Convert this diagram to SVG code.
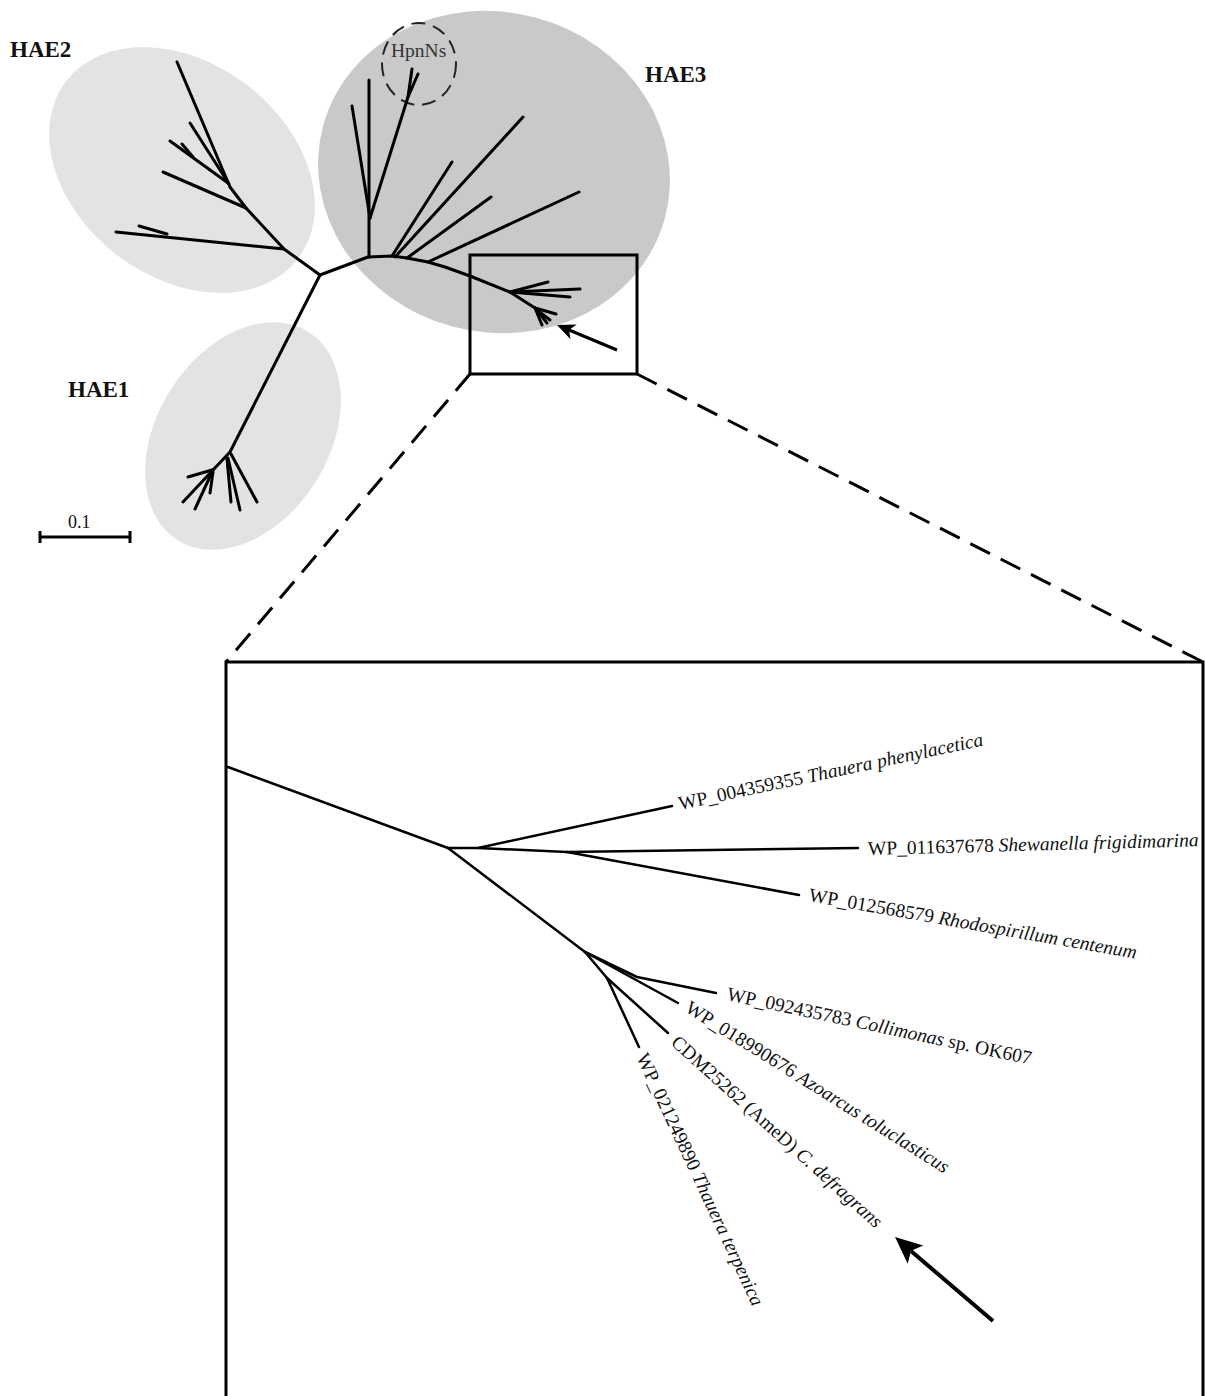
<svg xmlns="http://www.w3.org/2000/svg" width="1205" height="1396" viewBox="0 0 1205 1396">
<style>
.bg{fill:#ffffff}
.clL{fill:#e3e3e3}
.clD{fill:#c9c9c9}
.tr{fill:none;stroke:#000;stroke-width:3;stroke-linecap:round;stroke-linejoin:round}
.tz{fill:none;stroke:#000;stroke-width:2.5;stroke-linecap:round;stroke-linejoin:round}
.box{fill:none;stroke:#000;stroke-width:3}
.dash{fill:none;stroke:#000;stroke-width:3;stroke-dasharray:22 12}
.lab{font-family:"Liberation Serif","Times New Roman",serif;font-weight:bold;font-size:23px;fill:#111}
.leaf{font-family:"Liberation Serif","Times New Roman",serif;font-size:19.5px;fill:#111}
.it{font-style:italic}
</style>
<rect class="bg" x="0" y="0" width="1205" height="1396"/>

<g id="clusters">
  <ellipse id="hae2-area" class="clL" cx="182" cy="170" rx="146" ry="107" transform="rotate(37.5 182 170)"/>
  <ellipse id="hae1-area" class="clL" cx="243" cy="436" rx="86" ry="123" transform="rotate(32 243 436)"/>
  <ellipse id="hae3-area" class="clD" cx="494" cy="172" rx="177" ry="160" transform="rotate(15 494 172)"/>
</g>

<g id="labels">
  <text id="HAE2" class="lab" x="10" y="57">HAE2</text>
  <text id="HAE3" class="lab" x="645" y="82">HAE3</text>
  <text id="HAE1" class="lab" x="68" y="397">HAE1</text>
</g>

<g id="hpnns">
  <ellipse cx="419" cy="64" rx="37" ry="41" fill="none" stroke="#222" stroke-width="2" stroke-dasharray="14 8"/>
  <text x="391" y="57" font-family="'Liberation Serif','Times New Roman',serif" font-size="19.5" fill="#333">HpnNs</text>
</g>

<g id="connectors">
  <!-- overview tree: HAE2 -->
  <polyline class="tr" points="320,275 284,249 246,208 230,187 177,62"/>
  <line class="tr" x1="284" y1="249" x2="116" y2="232"/>
  <line class="tr" x1="139" y1="226" x2="167" y2="234"/>
  <line class="tr" x1="246" y1="208" x2="163" y2="172"/>
  <line class="tr" x1="228" y1="183" x2="170" y2="141"/>
  <line class="tr" x1="182" y1="144" x2="193" y2="157"/>
  <line class="tr" x1="229" y1="184" x2="190" y2="123"/>
  <!-- HAE1 -->
  <polyline class="tr" points="320,275 230,452 213,470 183,502"/>
  <line class="tr" x1="212" y1="470" x2="188" y2="477"/>
  <line class="tr" x1="213" y1="470" x2="195" y2="509"/>
  <line class="tr" x1="213" y1="472" x2="210" y2="493"/>
  <line class="tr" x1="227" y1="459" x2="231" y2="502"/>
  <line class="tr" x1="228" y1="458" x2="240" y2="510"/>
  <line class="tr" x1="231" y1="454" x2="257" y2="502"/>
  <!-- HAE3 -->
  <polyline class="tr" points="320,275 368,257 392,256 407,258 428,262 445,267 470,276 510,292 535,308 547,323"/>
  <line class="tr" x1="369" y1="257" x2="369" y2="80"/>
  <line class="tr" x1="370" y1="218" x2="352" y2="106"/>
  <polyline class="tr" points="370,218 408,97 412,69"/>
  <line class="tr" x1="408" y1="97" x2="418" y2="74"/>
  <line class="tr" x1="392" y1="256" x2="452" y2="162"/>
  <line class="tr" x1="395" y1="257" x2="523" y2="117"/>
  <line class="tr" x1="407" y1="258" x2="491" y2="197"/>
  <line class="tr" x1="428" y1="262" x2="579" y2="192"/>
  <line class="tr" x1="510" y1="292" x2="548" y2="282"/>
  <line class="tr" x1="510" y1="292" x2="580" y2="289"/>
  <line class="tr" x1="510" y1="292" x2="570" y2="297"/>
  <line class="tr" x1="535" y1="308" x2="556" y2="314"/>
  <line class="tr" x1="535" y1="308" x2="542" y2="325"/>
  <line class="tr" x1="537" y1="310" x2="550" y2="320"/>

  <!-- small arrow -->
  <line x1="617" y1="350" x2="569" y2="330" stroke="#000" stroke-width="3"/>
  <polygon points="557,325 576.7,324.5 569,330 570.5,339.3" fill="#000"/>

  <!-- zoom box and dashed guides -->
  <rect class="box" x="470" y="255" width="167" height="119"/>
  <line class="dash" x1="470" y1="374" x2="226" y2="662"/>
  <line class="dash" x1="637" y1="374" x2="1203" y2="662"/>
  <path class="box" d="M226,1396 V662 H1203 V1396"/>

  <!-- scale bar -->
  <path d="M40,537 H130 M40,531 V543 M130,531 V543" fill="none" stroke="#000" stroke-width="3"/>

  <!-- zoomed tree -->
  <line class="tz" x1="228" y1="767" x2="448" y2="848"/>
  <polyline class="tz" points="448,848 478,848 672,806"/>
  <polyline class="tz" points="478,848 567,852 858,848"/>
  <line class="tz" x1="567" y1="852" x2="799" y2="895"/>
  <line class="tz" x1="448" y1="848" x2="585" y2="952"/>
  <polyline class="tz" points="585,952 637,977 716,993"/>
  <line class="tz" x1="585" y1="952" x2="678" y2="1003"/>
  <line class="tz" x1="585" y1="952" x2="607" y2="978"/>
  <line class="tz" x1="607" y1="978" x2="639" y2="1047"/>
  <line class="tz" x1="607" y1="978" x2="668" y2="1033"/>

  <!-- big arrow -->
  <line x1="993" y1="1321" x2="911" y2="1251" stroke="#000" stroke-width="4"/>
  <polygon points="895,1237 923.3,1245.5 911,1250.7 907.7,1263.7" fill="#000"/>
</g>

<g id="scale-label">
  <text x="68" y="528" font-family="'Liberation Serif','Times New Roman',serif" font-size="18" fill="#111">0.1</text>
</g>

<g id="leaf-labels">
  <text id="n-thph" class="leaf" transform="translate(680,810) rotate(-12)">WP_004359355 <tspan class="it">Thauera phenylacetica</tspan></text>
  <text id="n-shfr" class="leaf" transform="translate(868,855) rotate(-1.5)">WP_011637678 <tspan class="it">Shewanella frigidimarina</tspan></text>
  <text id="n-rhce" class="leaf" transform="translate(808,901) rotate(10)">WP_012568579 <tspan class="it">Rhodospirillum centenum</tspan></text>
  <text id="n-coll" class="leaf" transform="translate(726,1000) rotate(12)">WP_092435783 <tspan class="it">Collimonas</tspan> sp. OK607</text>
  <text id="n-azto" class="leaf" transform="translate(684,1011) rotate(32)">WP_018990676 <tspan class="it">Azoarcus toluclasticus</tspan></text>
  <text id="n-cdef" class="leaf" transform="translate(670,1044) rotate(42)">CDM25262 (AmeD) <tspan class="it">C. defragrans</tspan></text>
  <text id="n-thte" class="leaf" transform="translate(636,1057) rotate(65)">WP_021249890 <tspan class="it">Thauera terpenica</tspan></text>
</g>
</svg>
